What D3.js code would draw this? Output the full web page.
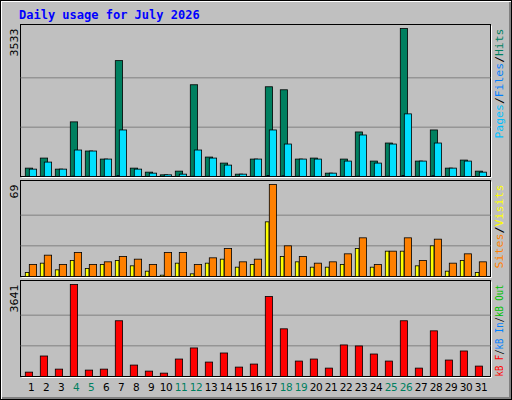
<!DOCTYPE html>
<html><head><meta charset="utf-8">
<script src="https://cdn.jsdelivr.net/npm/d3@7"></script>
<style>body{margin:0;background:#c0c0c0}svg{display:block}</style>
</head><body>
<script>
const days = d3.range(1,32).map(String);
const weekends = ["4","5","11","12","18","19","25","26"];
const hits  = [200,440,176,1304,608,416,2766,200,104,40,128,2190,464,320,56,416,2142,2070,416,440,80,416,1063,368,799,3533,368,1111,200,392,128];
const files = [176,344,176,632,608,416,1111,176,80,40,56,632,440,272,56,416,1111,775,416,416,80,368,991,320,775,1495,368,799,200,368,104];
const pages = [4,6,3,8,5,5,20,4,2,1,2,6,5,4,1,5,24,16,5,5,2,5,7,4,6,22,4,18,3,5,2];
const visits = [3,10,5,12,6,9,12,8,4,1,10,2,10,13,7,9,41,15,11,7,7,9,21,7,19,19,8,23,4,12,3];
const sites  = [9,16,9,18,9,11,15,13,9,18,18,9,14,21,11,13,69,23,15,10,11,17,29,9,19,29,12,28,10,17,11];
const kbF = [173,811,292,3641,253,292,2206,452,213,133,691,1130,571,930,372,492,3163,1887,611,691,332,1249,1209,890,611,2206,332,1807,651,1010,412];

const W=512,H=400;
const svg=d3.select("body").append("svg").attr("width",W).attr("height",H);
svg.append("rect").attr("width",W).attr("height",H).attr("fill","#c0c0c0");
svg.append("path").attr("d","M1,399V1H511").attr("stroke","#ffffff").attr("stroke-width",2).attr("fill","none");
svg.append("path").attr("d","M2,398H510V2").attr("stroke","#808080").attr("stroke-width",2).attr("fill","none");
svg.append("rect").attr("x",0.5).attr("y",0.5).attr("width",511).attr("height",399).attr("fill","none").attr("stroke","#000");

svg.append("text").attr("x",19).attr("y",19).text("Daily usage for July 2026")
  .attr("font-family","DejaVu Sans Mono").attr("font-weight","bold").attr("font-size",12).attr("fill","#0000ff");

const x=d3.scaleBand().domain(days).range([20,485]).padding(0);
const L=20.5,R=490.5;

function panel(y0,y1,max,maxLabel,legend,len){
  svg.append("rect").attr("x",L).attr("y",y0).attr("width",R-L).attr("height",y1-y0)
    .attr("fill","#c0c0c0").attr("stroke","#000");
  svg.append("path").attr("d",`M${L+1},${y1+1}H${R+1}V${y0+1}`).attr("stroke","#ffffff").attr("fill","none");
  [1/3,2/3].forEach(f=>svg.append("line").attr("x1",L).attr("x2",R)
    .attr("y1",y1-(y1-y0-4)*f).attr("y2",y1-(y1-y0-4)*f).attr("stroke","#808080"));
  const y=d3.scaleLinear().domain([0,max]).range([y1,y0+4]);
  svg.append("text").attr("transform",`translate(18,${y0+4}) rotate(-90)`).attr("text-anchor","end")
    .attr("font-family","DejaVu Sans").attr("font-size",11).attr("fill","#000").text(maxLabel);
  const t=svg.append("text").attr("transform",`translate(503,${y0+4}) rotate(-90)`).attr("text-anchor","end")
    .attr("font-family","DejaVu Sans Mono").attr("font-size",10.5)
    .attr("textLength",len).attr("lengthAdjust","spacingAndGlyphs");
  legend.forEach(([s,c])=>t.append("tspan").attr("fill",c).text(s));
  return y;
}
function bars(y,data,off,w,color){
  svg.append("g").selectAll("rect").data(data).join("rect")
    .attr("x",(d,i)=>x(days[i])+off).attr("width",w)
    .attr("y",d=>y(d)).attr("height",d=>y(0)-y(d))
    .attr("fill",color).attr("stroke","#000").attr("stroke-width",0.8);
}
let y=panel(24.5,176.5,3533,"3533",[["Pages","#00c0ff"],["/","#000"],["Files","#0080ff"],["/","#000"],["Hits","#008060"]],110);
bars(y,hits,5.3,7.3,"#008060");
bars(y,files,9.3,7.3,"#00e0ff");
bars(y,pages,7,2,"#0040ff");
y=panel(180.5,276.5,69,"69",[["Sites","#ff8000"],["/","#000"],["Visits","#ffff00"]],84);
bars(y,visits,5.3,3.7,"#ffff00");
bars(y,sites,9.3,7.3,"#ff8000");
y=panel(280.5,376.5,3641,"3641",[["kB F","#ff0000"],["/","#000"],["kB In","#0080ff"],["/","#000"],["kB Out","#00c000"]],92);
bars(y,kbF,5.3,7.3,"#ff0000");

svg.append("g").selectAll("text").data(days).join("text")
  .attr("x",d=>x(d)+11).attr("y",391).attr("text-anchor","middle")
  .attr("font-family","DejaVu Sans").attr("font-size",10.5).attr("letter-spacing",-0.5)
  .attr("fill",d=>weekends.includes(d)?"#008060":"#000").text(d=>d);
</script>
</body></html>
